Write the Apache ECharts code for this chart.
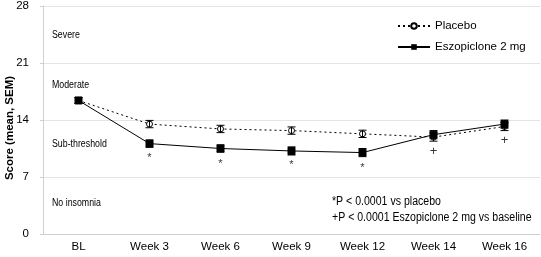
<!DOCTYPE html>
<html>
<head>
<meta charset="utf-8">
<script src="https://cdn.jsdelivr.net/npm/echarts@6/dist/echarts.min.js"></script>
<style>
  html, body { margin: 0; padding: 0; background: #fff; }
  #chart { width: 541px; height: 257px; }
</style>
</head>
<body>
<div id="chart"></div>
<script>
var categories = ['BL', 'Week 3', 'Week 6', 'Week 9', 'Week 12', 'Week 14', 'Week 16'];
var placebo = [16.4, 13.5, 12.9, 12.7, 12.3, 11.9, 13.2];
var placeboSem = [0.35, 0.45, 0.45, 0.45, 0.45, 0.5, 0.5];
var eszo = [16.4, 11.1, 10.5, 10.2, 10.0, 12.2, 13.5];
var eszoSem = [0.35, 0.45, 0.45, 0.5, 0.5, 0.5, 0.5];
var starPos = [null, 9.6, 8.9, 8.7, 8.4, null, null];
var plusPos = [null, null, null, null, null, 10.2, 11.5];
var yTicks = [0, 7, 14, 21, 28];
var zones = ['Severe', 'Moderate', 'Sub-threshold', 'No insomnia'];
var notes = ['*P < 0.0001 vs placebo', '+P < 0.0001 Eszopiclone 2 mg vs baseline'];
var yName = 'Score (mean, SEM)';

var font = 'Liberation Sans, Arial, sans-serif';

function errData(vals, sem) {
    return vals.map(function (v, i) { return [i, v - sem[i], v + sem[i]]; });
}

function renderErr(params, api) {
    var x = api.value(0);
    var lo = api.coord([x, api.value(1)]);
    var hi = api.coord([x, api.value(2)]);
    var w = 4;
    var style = { stroke: '#000', lineWidth: 1 };
    return {
        type: 'group',
        children: [
            { type: 'line', shape: { x1: lo[0], y1: lo[1], x2: hi[0], y2: hi[1] }, style: style },
            { type: 'line', shape: { x1: lo[0] - w, y1: lo[1], x2: lo[0] + w, y2: lo[1] }, style: style },
            { type: 'line', shape: { x1: hi[0] - w, y1: hi[1], x2: hi[0] + w, y2: hi[1] }, style: style }
        ]
    };
}

function markData(pos) {
    var out = [];
    pos.forEach(function (v, i) { if (v !== null) out.push([i, v]); });
    return out;
}

function zoneText(txt, top) {
    return { type: 'text', left: 52, top: top,
        style: { text: txt, fontSize: 10, fill: '#000', fontFamily: font }, scaleX: 0.88 };
}

var chart = echarts.init(document.getElementById('chart'), null, { renderer: 'canvas' });

var option = {
    animation: false,
    textStyle: { fontFamily: font },
    grid: { left: 43, right: 1, top: 5, bottom: 23 },
    legend: {
        data: ['Placebo', 'Eszopiclone 2 mg'],
        orient: 'vertical',
        left: 392,
        top: 15,
        itemWidth: 32,
        itemHeight: 7,
        itemGap: 9,
        textStyle: { fontSize: 11.5, color: '#000', fontFamily: font }
    },
    xAxis: {
        type: 'category',
        data: categories,
        axisLine: { lineStyle: { color: '#d0d0d0' } },
        axisTick: { lineStyle: { color: '#d0d0d0' }, length: 4, inside: true },
        axisLabel: { color: '#000', fontSize: 11.5, margin: 7 }
    },
    yAxis: {
        type: 'value',
        min: 0,
        max: 28,
        interval: 7,
        axisLine: { show: true, lineStyle: { color: '#d0d0d0' } },
        axisTick: { show: true, length: 3, lineStyle: { color: '#d0d0d0' } },
        axisLabel: { color: '#000', fontSize: 11.5, margin: 14,
            formatter: function (v) { return yTicks.indexOf(v) >= 0 ? String(v) : ''; } },
        splitLine: { lineStyle: { color: '#e4e4e4' } }
    },
    graphic: [
        zoneText(zones[0], 30),
        zoneText(zones[1], 80),
        zoneText(zones[2], 139),
        zoneText(zones[3], 198),
        { type: 'text', x: 332, y: 196, scaleX: 0.88,
            style: { text: notes[0], fontSize: 12, fill: '#000', fontFamily: font } },
        { type: 'text', x: 332, y: 212, scaleX: 0.88,
            style: { text: notes[1], fontSize: 12, fill: '#000', fontFamily: font } },
        { type: 'text', x: 10, y: 128, rotation: Math.PI / 2,
            style: { text: yName, fontSize: 11.5, fontWeight: 'bold', fill: '#000', fontFamily: font,
                align: 'center', verticalAlign: 'middle' } }
    ],
    series: [
        {
            name: 'Placebo',
            type: 'line',
            data: placebo,
            symbol: 'circle',
            symbolSize: 6,
            lineStyle: { color: '#000', width: 1, type: [2, 3] },
            itemStyle: { color: '#fff', borderColor: '#000', borderWidth: 1 },
            z: 3
        },
        {
            name: 'Eszopiclone 2 mg',
            type: 'line',
            data: eszo,
            symbol: 'rect',
            symbolSize: 7,
            lineStyle: { color: '#000', width: 1 },
            itemStyle: { color: '#000', borderColor: '#000' },
            z: 4
        },
        {
            type: 'custom',
            renderItem: renderErr,
            data: errData(placebo, placeboSem),
            encode: { x: 0, y: [1, 2] },
            z: 5,
            silent: true
        },
        {
            type: 'custom',
            renderItem: renderErr,
            data: errData(eszo, eszoSem),
            encode: { x: 0, y: [1, 2] },
            z: 5,
            silent: true
        },
        {
            type: 'scatter',
            data: markData(starPos),
            symbolSize: 0,
            silent: true,
            label: { show: true, position: 'inside', formatter: '*', fontSize: 11, color: '#000', offset: [0, 2] }
        },
        {
            type: 'scatter',
            data: markData(plusPos),
            symbolSize: 0,
            silent: true,
            label: { show: true, position: 'inside', formatter: '+', fontSize: 13, color: '#000' }
        }
    ]
};

chart.setOption(option);
</script>
</body>
</html>
